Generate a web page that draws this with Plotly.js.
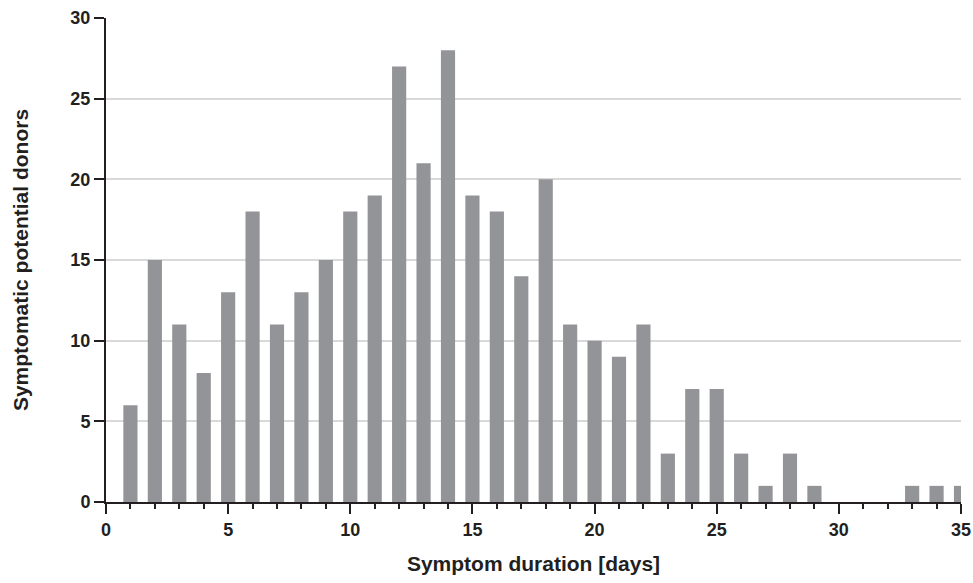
<!DOCTYPE html>
<html>
<head>
<meta charset="utf-8">
<script src="https://cdn.plot.ly/plotly-3.0.1.min.js"></script>
<style>html,body{margin:0;padding:0;background:#fff;}#chart{width:973px;height:583px;}</style>
</head>
<body>
<div id="chart"></div>
<script>
const days = [1,2,3,4,5,6,7,8,9,10,11,12,13,14,15,16,17,18,19,20,21,22,23,24,25,26,27,28,29,30,31,32,33,34,35];
const donors = [6,15,11,8,13,18,11,13,15,18,19,27,21,28,19,18,14,20,11,10,9,11,3,7,7,3,1,3,1,0,0,0,1,1,1];
const xTickVals = [0,5,10,15,20,25,30,35];
const yTickVals = [0,5,10,15,20,25,30];
const gridVals = [5,10,15,20,25];

const fontFam = '"Liberation Sans", Arial, Helvetica, sans-serif';

const trace = {
  type: 'bar',
  x: days,
  y: donors,
  width: 0.58,
  marker: {color: '#939497', line: {width: 0}},
  cliponaxis: false,
  hoverinfo: 'x+y'
};

const layout = {
  width: 973,
  height: 583,
  margin: {l: 106, r: 12, t: 18, b: 81},
  paper_bgcolor: '#ffffff',
  plot_bgcolor: 'rgba(0,0,0,0)',
  showlegend: false,
  font: {family: fontFam, color: '#231f20'},
  xaxis: {
    range: [0, 35],
    tickvals: xTickVals,
    ticktext: xTickVals.map(String),
    ticks: 'outside',
    ticklen: 10,
    tickwidth: 2,
    tickcolor: '#231f20',
    showline: true,
    linewidth: 2,
    linecolor: '#231f20',
    showgrid: false,
    zeroline: false,
    tickfont: {family: fontFam, size: 18, weight: 'bold', color: '#231f20'},
    minor: {dtick: 1, tick0: 0, ticks: 'outside', ticklen: 5, tickwidth: 2, tickcolor: '#231f20', showgrid: false},
    title: {text: 'Symptom duration [days]', font: {family: fontFam, size: 21, weight: 'bold', color: '#231f20'}, standoff: 18},
    fixedrange: true
  },
  yaxis: {
    range: [0, 30],
    tickvals: yTickVals,
    ticktext: yTickVals.map(String),
    ticks: 'outside',
    ticklen: 10,
    tickwidth: 2,
    tickcolor: '#231f20',
    showline: true,
    linewidth: 2,
    linecolor: '#231f20',
    showgrid: false,
    zeroline: false,
    tickfont: {family: fontFam, size: 18, weight: 'bold', color: '#231f20'},
    title: {text: 'Symptomatic potential donors', font: {family: fontFam, size: 21, weight: 'bold', color: '#231f20'}, standoff: 36},
    fixedrange: true
  },
  yaxis2: {
    overlaying: 'y',
    matches: 'y',
    range: [0, 30],
    tickvals: gridVals,
    showticklabels: false,
    ticks: '',
    showgrid: true,
    gridcolor: '#d9d9d9',
    gridwidth: 2,
    showline: false,
    zeroline: false,
    layer: 'below traces',
    fixedrange: true
  }
};

const gridTrace = {type: 'scatter', x: [null], y: [null], yaxis: 'y2', hoverinfo: 'skip', showlegend: false};

Plotly.newPlot('chart', [gridTrace, trace], layout, {displayModeBar: false, staticPlot: true});
</script>
</body>
</html>
